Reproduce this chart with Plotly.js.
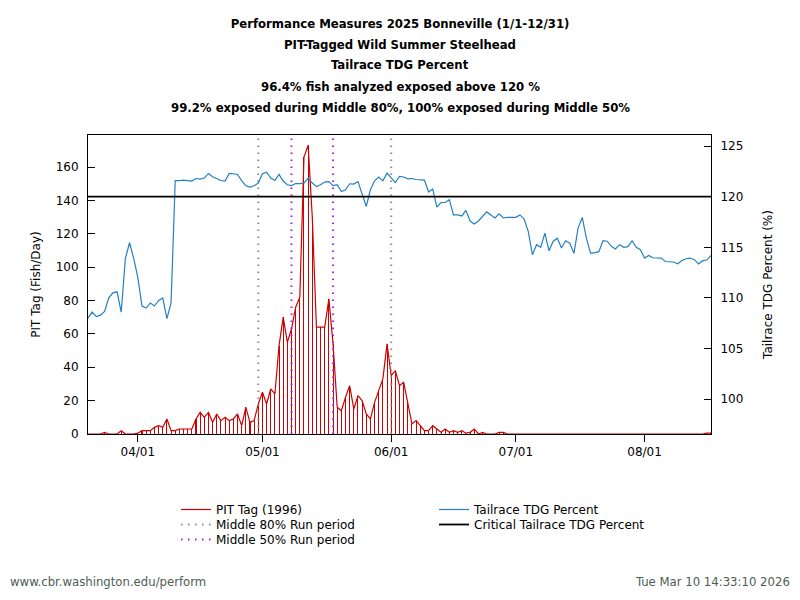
<!DOCTYPE html>
<html>
<head>
<meta charset="utf-8">
<script src="https://cdn.plot.ly/plotly-3.0.1.min.js"></script>
<style>
html,body{margin:0;padding:0;background:#fff;}
#chart{width:800px;height:600px;}
</style>
</head>
<body>
<div id="chart"></div>
<script>
// ---- data ----
var startDate = '2025-03-20';   // first day of series (day 0)
var endDate = '2025-08-17';     // last day of series
var pitTag = [
  0,0,0,0,1,0,0,0,2,0,
  0,0,0.5,2,2,2,4,5,4,9,
  2,2,3,3,3,3,9,13,10,13,
  7,12,8,10,8,9,12,5,16,7,
  8,18,25,18,27,24,53,70,55,63,
  76,82,166,173,130,64,64,64,81,54,
  16,14,22,29,15,23,20,12,9,19,
  26,33,54,35,38,29,31,19,6,8,
  5,2,2,5,3,1,3,1,2,1,
  2,0.5,1,3,0,1,0,0,0,1,
  1,0,0,0,0,0,0,0,0,0,
  0,0,0,0,0,0,0,0,0,0,
  0,0,0,0,0,0,0,0,0,0,
  0,0,0,0,0,0,0,0,0,0,
  0,0,0,0,0,0,0,0,0,0.5,
  0.5
];
var tdgPercent = [
  108.0,108.6,108.15,108.3,108.67,110.0,110.5,110.6,108.6,113.9,
  115.45,113.9,112.0,109.2,109.0,109.5,109.2,109.75,110.0,107.95,
  109.5,121.6,121.6,121.65,121.6,121.55,121.8,121.75,121.85,122.3,
  121.97,121.8,121.6,121.55,122.3,122.27,122.2,121.6,121.08,120.95,
  121.08,121.35,122.27,122.43,121.84,121.6,122.2,121.55,121.18,121.1,
  121.3,121.3,121.35,121.84,121.35,121.0,121.18,121.45,121.5,121.1,
  121.18,120.52,120.69,121.28,121.25,121.5,120.2,119.04,120.69,121.57,
  121.94,121.57,122.33,121.9,121.4,122.0,121.95,121.77,121.8,121.7,
  121.67,121.64,120.46,120.75,118.98,119.43,119.43,119.7,118.2,118.2,
  118.1,118.65,117.6,117.3,117.6,118.05,118.5,118.2,117.9,118.3,
  117.9,117.96,117.96,117.96,118.2,117.8,116.57,114.27,115.26,115.0,
  116.4,114.66,115.6,115.9,114.93,115.65,115.4,114.4,116.9,117.95,
  115.9,114.4,114.47,114.57,115.65,115.6,115.1,114.83,115.26,115.0,
  115.06,115.65,115.0,114.77,113.94,114.2,113.97,113.94,113.94,113.6,
  113.55,113.55,113.38,113.7,113.87,113.94,113.78,113.35,113.68,113.74,
  114.2
];
var criticalTDG = 120;
var middle80 = ['2025-04-30', '2025-06-01'];
var middle50 = ['2025-05-08', '2025-05-18'];
var pitTotal = 1996;
var xTickVals = ['2025-04-01','2025-05-01','2025-06-01','2025-07-01','2025-08-01'];
var xTickText = ['04/01','05/01','06/01','07/01','08/01'];
var leftRange = [0, 179.2];
var rightRange = [96.55, 126.1];
var titleLines = [
  'Performance Measures 2025 Bonneville (1/1-12/31)',
  'PIT-Tagged Wild Summer Steelhead',
  'Tailrace TDG Percent',
  '96.4% fish analyzed exposed above 120 %',
  '99.2% exposed during Middle 80%, 100% exposed during Middle 50%'
];

// ---- build daily dates ----
function addDays(s, n) {
  var d = new Date(s + 'T00:00:00Z');
  d.setUTCDate(d.getUTCDate() + n);
  return d.toISOString().slice(0, 10);
}
var dates = tdgPercent.map(function (_, i) { return addDays(startDate, i); });

function vlines(arr) {
  var xs = [], ys = [];
  arr.forEach(function (d) { xs.push(d, d, null); ys.push(leftRange[0], leftRange[1], null); });
  return {x: xs, y: ys};
}
var v80 = vlines(middle80), v50 = vlines(middle50);

var red = '#cc0000', blue = '#2480c2';
var traces = [
  {type: 'bar', x: dates, y: pitTag, yaxis: 'y', width: 86400000 * 0.25,
   marker: {color: red, line: {width: 0}}, showlegend: false, hoverinfo: 'skip'},
  {type: 'scatter', mode: 'lines', x: dates, y: pitTag, yaxis: 'y',
   line: {color: red, width: 1.2}, name: 'PIT Tag (' + pitTotal + ')', legend: 'legend'},
  {type: 'scatter', mode: 'lines', x: v80.x, y: v80.y, yaxis: 'y',
   line: {color: '#8c8c8c', width: 2, dash: '1.5px,5.5px'}, name: 'Middle 80% Run period', legend: 'legend2'},
  {type: 'scatter', mode: 'lines', x: v50.x, y: v50.y, yaxis: 'y',
   line: {color: '#a020f0', width: 2, dash: '1.5px,5.5px'}, name: 'Middle 50% Run period', legend: 'legend3'},
  {type: 'scatter', mode: 'lines', x: dates, y: tdgPercent, yaxis: 'y2',
   line: {color: blue, width: 1.2}, name: 'Tailrace TDG Percent', legend: 'legend4'},
  {type: 'scatter', mode: 'lines', x: [startDate, endDate], y: [criticalTDG, criticalTDG], yaxis: 'y2',
   line: {color: '#000', width: 1.8}, name: 'Critical Tailrace TDG Percent', legend: 'legend5'}
];

var condensed = "'DejaVu Sans Condensed', 'DejaVu Sans', sans-serif";
var tFont = {family: condensed, size: 13, color: '#000'};
function pyPaper(px) { return (434 - px) / 299; }
var annotations = [];
for (var i = 1; i < titleLines.length; i++) {
  annotations.push({text: '<b>' + titleLines[i] + '</b>', xref: 'paper', yref: 'paper',
    x: (400 - 88) / 623, y: pyPaper(23 + 21 * i), xanchor: 'center', yanchor: 'middle',
    showarrow: false, font: tFont});
}
annotations.push(
  {text: 'www.cbr.washington.edu/perform', xref: 'paper', yref: 'paper', x: (8 - 88) / 623, y: pyPaper(581),
   xanchor: 'left', yanchor: 'middle', showarrow: false, font: {family: condensed, size: 13, color: '#4d5d53'}},
  {text: 'Tue Mar 10 14:33:10 2026', xref: 'paper', yref: 'paper', x: (792 - 88) / 623, y: pyPaper(581),
   xanchor: 'right', yanchor: 'middle', showarrow: false, font: {family: condensed, size: 13, color: '#4d5d53'}}
);

function leg(xpx, ypx) {
  return {x: (xpx - 88) / 623, xanchor: 'left', y: 1 - ypx / 600, yanchor: 'top', yref: 'container',
    bgcolor: 'rgba(0,0,0,0)', font: {size: 12}, tracegroupgap: 0, itemwidth: 30};
}

var layout = {
  width: 800, height: 600,
  margin: {l: 88, r: 89, t: 135, b: 166},
  paper_bgcolor: '#fff', plot_bgcolor: '#fff',
  font: {family: "'DejaVu Sans', sans-serif", size: 12, color: '#000'},
  showlegend: true,
  bargap: 0,
  title: {
    text: '<b>' + titleLines[0] + '</b>',
    font: tFont,
    x: 0.5, xanchor: 'center', xref: 'container', y: 1 - 23 / 600, yanchor: 'middle', yref: 'container'
  },
  xaxis: {
    type: 'date', range: [startDate, endDate],
    tickvals: xTickVals, ticktext: xTickText,
    ticks: 'outside', ticklen: 7, tickcolor: '#000', tickwidth: 1,
    showline: true, linecolor: '#000', linewidth: 1, mirror: true,
    showgrid: false, zeroline: false, tickfont: {size: 12}
  },
  yaxis: {
    range: leftRange, dtick: 20, tick0: 0,
    ticks: 'inside', ticklen: 7, tickcolor: '#000',
    showline: true, linecolor: '#000', linewidth: 1,
    showgrid: false, zeroline: false, ticklabelstandoff: 6,
    title: {text: 'PIT Tag (Fish/Day)', font: {size: 12}, standoff: 12}
  },
  yaxis2: {
    overlaying: 'y', side: 'right', range: rightRange, dtick: 5, tick0: 100,
    ticks: 'inside', ticklen: 7, tickcolor: '#000',
    showline: true, linecolor: '#000', linewidth: 1,
    showgrid: false, zeroline: false, ticklabelstandoff: 6,
    title: {text: 'Tailrace TDG Percent (%)', font: {size: 12}, standoff: 21}
  },
  legend: leg(176, 495),
  legend2: leg(176, 510),
  legend3: leg(176, 525),
  legend4: leg(434, 495),
  legend5: leg(434, 510),
  annotations: annotations
};

Plotly.newPlot('chart', traces, layout, {displayModeBar: false, staticPlot: true});
</script>
</body>
</html>
